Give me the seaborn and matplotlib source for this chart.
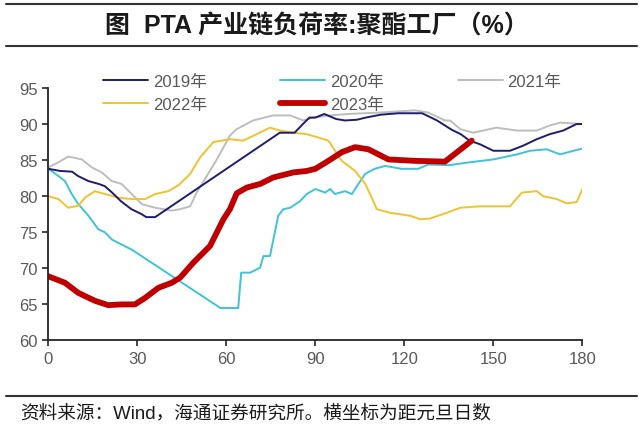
import numpy as np
import pandas as pd
import matplotlib
matplotlib.use("Agg")
import matplotlib.pyplot as plt
import seaborn as sns
from matplotlib.lines import Line2D

# data (x = days since new year, y = load %)
x2019 = [0, 4, 8, 10, 13.5, 17, 19, 21.5, 24.5, 28, 31.5, 33, 36, 78, 83, 85.8, 88, 90, 93, 97,
         100, 104, 107, 112, 118, 126, 131, 136, 139, 142, 145.5, 150, 155.6, 160, 164.6, 169,
         173.5, 178, 180]
y2019 = [83.8, 83.5, 83.4, 82.8, 82.1, 81.7, 81.4, 80.5, 79.3, 78.2, 77.5, 77.1, 77.1, 88.8, 88.8,
         90.0, 90.9, 90.9, 91.4, 90.7, 90.5, 90.6, 90.9, 91.3, 91.5, 91.5, 90.5, 89.2, 88.6, 87.7,
         87.2, 86.3, 86.3, 87.0, 87.9, 88.6, 89.1, 90.0, 90.0]

x2020 = [0, 3.4, 5.6, 7.9, 10.1, 13.5, 16.9, 19.1, 21.4, 24.7, 28.1, 58, 64, 65, 68, 71.4, 72.5,
         74.7, 77.5, 79.2, 81.5, 84.8, 87.1, 90, 93.3, 95, 96.6, 100, 102.3, 104.5, 106.8, 110,
         113.5, 119, 124.7, 128, 135, 142, 150, 158, 162.4, 168, 172.5, 177, 180]
y2020 = [83.8, 82.8, 82.1, 80.3, 78.9, 77.3, 75.4, 75.0, 74.0, 73.3, 72.6, 64.5, 64.5, 69.4, 69.4,
         70.1, 71.7, 71.7, 77.3, 78.2, 78.4, 79.3, 80.3, 81.0, 80.5, 81.0, 80.3, 80.7, 80.3, 81.7,
         83.1, 83.8, 84.2, 83.8, 83.8, 84.4, 84.3, 84.7, 85.1, 85.8, 86.3, 86.5, 85.8, 86.3, 86.6]

x2021 = [0, 3.4, 6.7, 11.3, 14.6, 18, 21.4, 24.7, 28.1, 31.5, 36, 41.6, 44.4, 47.8, 50, 53.4, 56.8,
         61.2, 63.5, 69, 75.8, 81.5, 85.9, 89.3, 95, 101, 112, 123.6, 128, 133.7, 135.4, 138.8,
         143.2, 151, 158, 164.6, 169, 172.5, 180]
y2021 = [84.0, 84.7, 85.5, 85.1, 84.0, 83.3, 82.1, 81.7, 80.3, 78.9, 78.4, 78.0, 78.2, 78.6, 80.5,
         82.8, 85.1, 88.4, 89.3, 90.5, 91.2, 91.2, 90.5, 90.9, 91.2, 91.4, 91.6, 91.9, 91.6, 90.5,
         90.5, 89.3, 88.8, 89.5, 89.1, 89.1, 89.8, 90.2, 90.0]

x2022 = [0, 3.4, 6.7, 10.1, 12.4, 15.7, 19.1, 23.6, 28.1, 32.6, 36, 40.4, 43.8, 47.8, 51.2, 55.6,
         61.2, 65.7, 70.2, 74.7, 78.1, 82.6, 87.1, 90.5, 94.4, 98.9, 103.4, 106.8, 109, 110.7,
         115.2, 121.9, 125.3, 128.6, 134.3, 138.8, 145.5, 155.6, 159.6, 164.6, 166.8, 171.4,
         174.7, 178.1, 180]
y2022 = [80.0, 79.6, 78.4, 78.7, 79.8, 80.7, 80.3, 79.8, 79.6, 79.6, 80.3, 80.7, 81.5, 83.1, 85.4,
         87.5, 87.9, 87.7, 88.6, 89.5, 89.1, 88.8, 88.6, 88.2, 87.7, 84.9, 83.5, 81.7, 79.8, 78.2,
         77.7, 77.3, 76.8, 76.9, 77.7, 78.4, 78.6, 78.6, 80.5, 80.7, 80.0, 79.6, 79.0, 79.2, 81.0]

x2023 = [0, 5.6, 10.1, 15.7, 20.2, 24.7, 29.2, 32.6, 37.1, 41.6, 44.4, 48.9, 54.5, 59, 61.2, 63.5,
         66.9, 71.4, 75.8, 82.6, 87.1, 90, 94.4, 98.9, 103.4, 107.9, 114.6, 123.6, 133.7, 142.7]
y2023 = [68.9, 68.0, 66.6, 65.5, 64.9, 65.0, 65.0, 65.9, 67.3, 68.0, 68.7, 70.8, 73.1, 76.8, 78.2,
         80.4, 81.2, 81.7, 82.6, 83.3, 83.5, 83.8, 84.9, 86.1, 86.8, 86.5, 85.1, 84.9, 84.8, 87.7]

labels = ["2019年", "2020年", "2021年", "2022年", "2023年"]
colors = ["#1c1c70", "#3ec3d8", "#bdbdbd", "#efc330", "#c00000"]
widths = [1.4, 1.4, 1.4, 1.4, 4.2]

sns.set_style("white")
plt.rcParams['font.family'] = ['Liberation Sans', 'Noto Sans CJK SC']
plt.rcParams['axes.unicode_minus'] = False

fig = plt.figure(figsize=(6.4, 4.31), dpi=100)
ax = fig.add_axes([0.0755, 0.2077, 0.8345, 0.5858])

series = [(x2019, y2019), (x2020, y2020), (x2021, y2021), (x2022, y2022), (x2023, y2023)]
order = [2, 1, 3, 0, 4]  # draw order so red is on top
for i in order:
    xs, ys = series[i]
    df = pd.DataFrame({"x": xs, "y": ys})
    sns.lineplot(data=df, x="x", y="y", ax=ax, color=colors[i], linewidth=widths[i],
                 estimator=None, sort=False)

ax.set_xlim(0, 180)
ax.set_ylim(60, 95)
ax.set_xticks(np.arange(0, 181, 30))
ax.set_yticks(np.arange(60, 96, 5))
ax.set_xlabel("")
ax.set_ylabel("")
for s in ["top", "right"]:
    ax.spines[s].set_visible(False)
for s in ["left", "bottom"]:
    ax.spines[s].set_color("#262626")
    ax.spines[s].set_linewidth(1.3)
ax.tick_params(axis="both", direction="out", length=4, width=1.2, color="#262626",
               labelsize=12, labelcolor="#595959", left=True, bottom=True)

# legend filled column by column -> rows read 2019 2020 2021 / 2022 2023
leg_order = [0, 3, 1, 4, 2]
handles = [Line2D([], [], color=colors[i], linewidth=widths[i]) for i in leg_order]
fig.legend(handles, [labels[i] for i in leg_order], ncol=3, loc="upper left",
           bbox_to_anchor=(0.148, 0.845), frameon=False, fontsize=12, handlelength=2.7,
           handletextpad=0.3, columnspacing=4.4, labelspacing=0.45, borderpad=0,
           labelcolor="#595959")

# title block and footer
fig.add_artist(Line2D([0.01, 0.995], [1 - 5 / 431, 1 - 5 / 431], color="#333333", linewidth=1.5))
fig.add_artist(Line2D([0.01, 0.995], [1 - 47 / 431, 1 - 47 / 431], color="#333333", linewidth=1.5))
fig.text(0.495, 1 - 26 / 431, "图  PTA 产业链负荷率:聚酯工厂（%）", ha="center", va="center",
         fontsize=18, fontweight="bold", color="#1a1a1a")
fig.add_artist(Line2D([0.01, 0.995], [1 - 397 / 431, 1 - 397 / 431], color="#333333", linewidth=1.5))
fig.text(0.031, 1 - 413 / 431, "资料来源：Wind，海通证券研究所。横坐标为距元旦日数", ha="left", va="center",
         fontsize=13.4, color="#1a1a1a")

fig.savefig("out.png", dpi=100)
